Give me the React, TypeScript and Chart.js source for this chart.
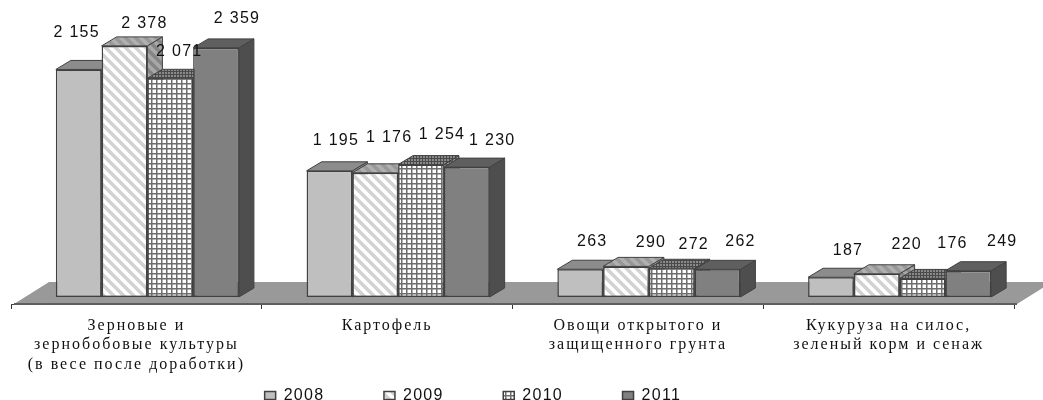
import React, { useEffect, useRef } from "react";
import { Chart, registerables } from "chart.js";

Chart.register(...registerables);

const categories = [
  ["Зерновые и", "зернобобовые культуры", "(в весе после доработки)"],
  ["Картофель"],
  ["Овощи открытого и", "защищенного грунта"],
  ["Кукуруза на силос,", "зеленый корм и сенаж"],
];
const seriesNames = ["2008", "2009", "2010", "2011"];
const values2008 = [2155, 1195, 263, 187];
const values2009 = [2378, 1176, 290, 220];
const values2010 = [2071, 1254, 272, 176];
const values2011 = [2359, 1230, 262, 249];
const seriesValues = [values2008, values2009, values2010, values2011];

// Label nudges relative to the top-centre of each bar, per series then category.
const labelNudges = [
  [[-2, -37], [6.5, -30], [12, -28], [17, -27]],
  [[20, -22.5], [14, -35], [25, -24], [30, -29]],
  [[9, -27], [21, -30], [22, -24], [30, -35]],
  [[21, -29], [25.5, -27], [23, -28], [34, -29]],
];

const DEPTH_X = 15;
const DEPTH_Y = 9;
const SHIFT_X = 11;
const SHIFT_Y = 7;
const SANS = "'Liberation Sans', Arial, sans-serif";
const SERIF = "'Liberation Serif', 'Times New Roman', serif";

function tile(w: number, h: number, draw: (c: CanvasRenderingContext2D) => void) {
  const cv = document.createElement("canvas");
  cv.width = w;
  cv.height = h;
  const c = cv.getContext("2d")!;
  draw(c);
  return c.createPattern(cv, "repeat")!;
}

function stripes(bg: string, fg: string) {
  return tile(10, 10, (c) => {
    c.fillStyle = bg;
    c.fillRect(0, 0, 10, 10);
    c.strokeStyle = fg;
    c.lineWidth = 3.5;
    for (const o of [-10, 0, 10]) {
      c.beginPath();
      c.moveTo(o - 1, -1);
      c.lineTo(o + 11, 11);
      c.stroke();
    }
  });
}

function grid(bg: string, fg: string, size: number, thick: number) {
  return tile(size, size, (c) => {
    c.fillStyle = bg;
    c.fillRect(0, 0, size, size);
    c.fillStyle = fg;
    c.fillRect(0, 0, thick, size);
    c.fillRect(0, 0, size, thick);
  });
}

export default function App() {
  const ref = useRef<HTMLCanvasElement | null>(null);

  useEffect(() => {
    const faces = [
      { front: "#bfbfbf", top: "#8c8c8c", side: "#8f8f8f" },
      { front: stripes("#ffffff", "#d2d2d2"), top: stripes("#b0b0b0", "#989898"), side: stripes("#a8a8a8", "#858585") },
      { front: grid("#ffffff", "#6e6e6e", 5, 1.5), top: grid("#8a8a8a", "#4a4a4a", 3, 1), side: grid("#9a9a9a", "#555555", 3, 1) },
      { front: "#808080", top: "#5f5f5f", side: "#4e4e4e" },
    ];
    const edge = "#404040";

    const threeD = {
      id: "threeD",
      beforeDraw(chart: any) {
        chart.ctx.letterSpacing = "1.3px";
      },
      afterLayout(chart: any) {
        chart.legend.left -= 50;
        chart.legend.right -= 50;
        chart.scales.x.bottom = chart.height;
      },
      beforeDatasetsDraw(chart: any) {
        const { ctx, chartArea: a } = chart;
        ctx.save();
        ctx.beginPath();
        ctx.moveTo(a.left + 3, a.bottom);
        ctx.lineTo(a.left + 38, a.bottom - 22);
        ctx.lineTo(a.right + 38, a.bottom - 22);
        ctx.lineTo(a.right + 3, a.bottom);
        ctx.closePath();
        ctx.fillStyle = "#999999";
        ctx.fill();
        ctx.strokeStyle = "#5e5e5e";
        ctx.lineWidth = 2;
        ctx.beginPath();
        ctx.moveTo(a.left + 3, a.bottom);
        ctx.lineTo(a.right + 3, a.bottom);
        ctx.stroke();
        ctx.restore();
        ctx.save();
        ctx.translate(SHIFT_X, -SHIFT_Y);
        // Tops and sides go on first, left to right; the library then paints the fronts.
        ctx.save();
        ctx.strokeStyle = edge;
        ctx.lineWidth = 1;
        seriesNames.forEach((_, i) => {
          const f = faces[i];
          for (const b of chart.getDatasetMeta(i).data) {
            const l = b.x - b.width / 2;
            const r = b.x + b.width / 2;
            ctx.beginPath();
            ctx.moveTo(r, b.y);
            ctx.lineTo(r + DEPTH_X, b.y - DEPTH_Y);
            ctx.lineTo(r + DEPTH_X, b.base - DEPTH_Y);
            ctx.lineTo(r, b.base);
            ctx.closePath();
            ctx.fillStyle = f.side;
            ctx.fill();
            ctx.stroke();
            ctx.beginPath();
            ctx.moveTo(l, b.y);
            ctx.lineTo(l + DEPTH_X, b.y - DEPTH_Y);
            ctx.lineTo(r + DEPTH_X, b.y - DEPTH_Y);
            ctx.lineTo(r, b.y);
            ctx.closePath();
            ctx.fillStyle = f.top;
            ctx.fill();
            ctx.stroke();
          }
        });
        ctx.restore();
      },
      afterDatasetsDraw(chart: any) {
        const { ctx } = chart;
        ctx.font = `16px ${SANS}`;
        ctx.fillStyle = "#111111";
        ctx.textAlign = "center";
        ctx.textBaseline = "middle";
        chart.data.datasets.forEach((ds: any, i: number) => {
          chart.getDatasetMeta(i).data.forEach((b: any, j: number) => {
            const text = String(ds.data[j]).replace(/\B(?=(\d{3})+$)/g, " ");
            ctx.fillText(text, b.x + labelNudges[i][j][0], b.y + labelNudges[i][j][1]);
          });
        });
        ctx.restore();
        ctx.letterSpacing = "2px";
      },
      afterDraw(chart: any) {
        chart.ctx.letterSpacing = "0px";
      },
    };

    const chart = new Chart(ref.current!, {
      type: "bar",
      data: {
        labels: categories,
        datasets: seriesNames.map((name, i) => ({
          label: name,
          data: seriesValues[i],
          backgroundColor: faces[i].front,
          borderColor: edge,
          borderWidth: 1.5,
          borderSkipped: false,
          barPercentage: 1,
          categoryPercentage: 0.73,
          clip: false,
        })),
      },
      options: {
        responsive: false,
        animation: false,
        devicePixelRatio: 1,
        layout: { padding: { left: 11, right: 29, top: 29.44, bottom: 0 } },
        scales: {
          x: {
            grid: { drawOnChartArea: false, drawTicks: true, tickLength: 5, color: "#333333" },
            border: { display: true, color: "#444444" },
            ticks: {
              z: 1,
              autoSkip: false,
              maxRotation: 0,
              minRotation: 0,
              padding: 7,
              color: "#111111",
              font: { family: SERIF, size: 16, lineHeight: 1.22 },
            },
            afterFit(scale: any) {
              scale.height = 24;
            },
          },
          y: { display: false, min: 0, max: 2600 },
        },
        plugins: {
          tooltip: { enabled: false },
          legend: {
            position: "bottom",
            maxHeight: 72,
            labels: {
              boxWidth: 11,
              boxHeight: 8,
              padding: 59.5,
              color: "#111111",
              font: { family: SANS, size: 16 },
            },
          },
        },
      } as any,
      plugins: [threeD as any],
    });
    return () => chart.destroy();
  }, []);

  return (
    <div style={{ position: "absolute", left: 0, top: 0, width: 1043, height: 400 }}>
      <canvas ref={ref} width={1043} height={400} style={{ display: "block", filter: "blur(0.4px)" }} />
    </div>
  );
}
